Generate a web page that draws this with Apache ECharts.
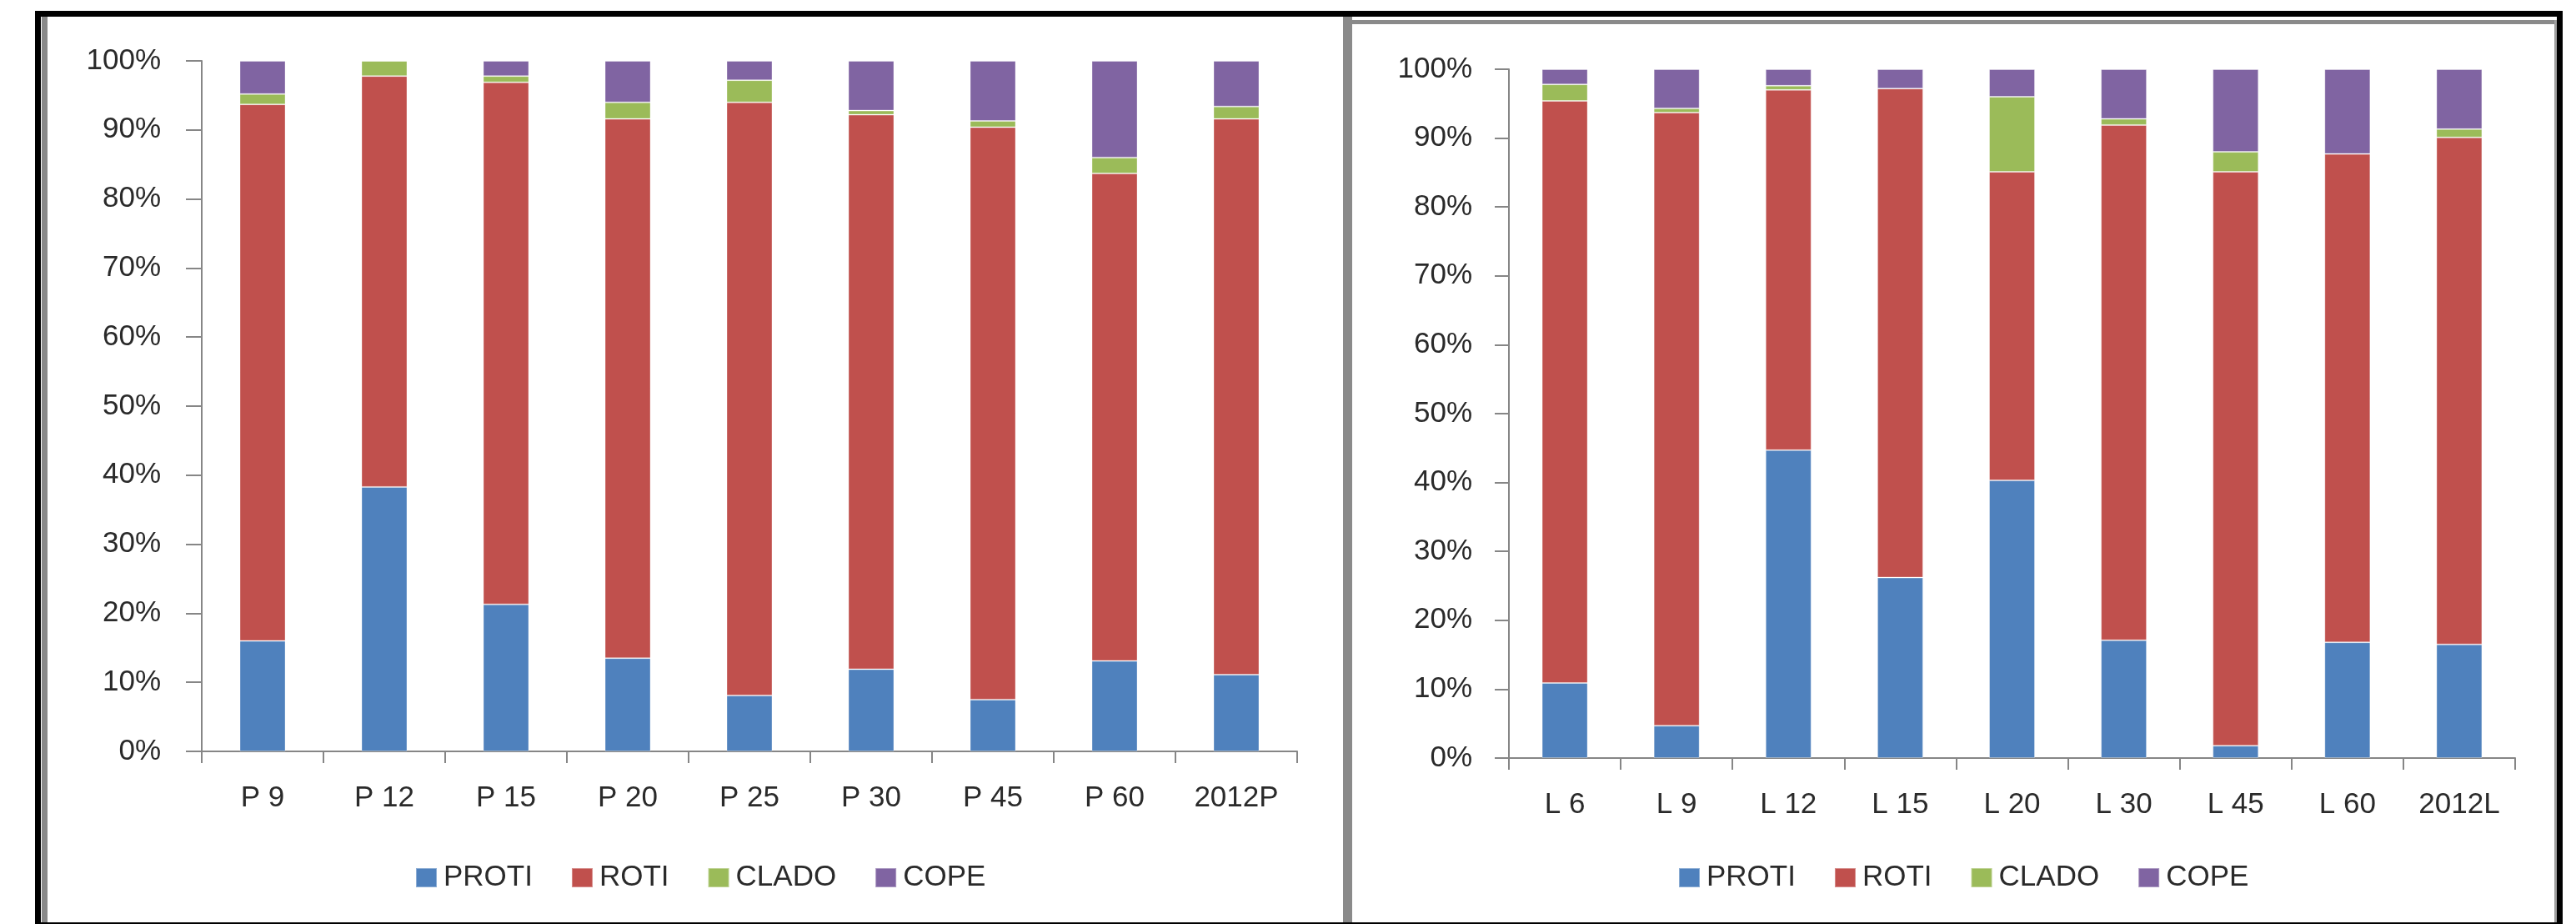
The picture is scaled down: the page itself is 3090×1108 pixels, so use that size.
<!DOCTYPE html>
<html>
<head>
<meta charset="utf-8">
<script src="https://cdn.jsdelivr.net/npm/echarts@6/dist/echarts.min.js"></script>
<style>
  html, body { margin: 0; padding: 0; background: #fff; }
  #chart { width: 3090px; height: 1108px; }
</style>
</head>
<body>
<div id="chart"></div>
<script>
// Zooplankton composition (%), sample stations P and L
const seriesNames = ['PROTI', 'ROTI', 'CLADO', 'COPE'];
const seriesColors = ['#4F81BD', '#C0504D', '#9BBB59', '#8064A2'];

const categoriesP = ['P 9', 'P 12', 'P 15', 'P 20', 'P 25', 'P 30', 'P 45', 'P 60', '2012P'];
const protiP = [16.0, 38.3, 21.3, 13.5, 8.1, 11.9, 7.5, 13.1, 11.1];
const rotiP  = [77.7, 59.5, 75.6, 78.1, 85.9, 80.3, 82.9, 70.6, 80.5];
const cladoP = [1.5, 2.2, 0.9, 2.4, 3.2, 0.6, 0.9, 2.3, 1.8];
const copeP  = [4.8, 0.0, 2.2, 6.0, 2.8, 7.2, 8.7, 14.0, 6.6];

const categoriesL = ['L 6', 'L 9', 'L 12', 'L 15', 'L 20', 'L 30', 'L 45', 'L 60', '2012L'];
const protiL = [10.9, 4.7, 44.7, 26.2, 40.3, 17.1, 1.8, 16.8, 16.5];
const rotiL  = [84.5, 89.0, 52.3, 71.0, 44.8, 74.8, 83.3, 70.9, 73.6];
const cladoL = [2.4, 0.6, 0.6, 0.0, 10.9, 0.9, 2.9, 0.0, 1.2];
const copeL  = [2.2, 5.7, 2.4, 2.8, 4.0, 7.2, 12.0, 12.3, 8.7];

const FONT = '"Liberation Sans", Arial, sans-serif';
const TEXT = '#2a2a2a';
const AXIS = '#868686';

function valueAxis(gridIndex, labelMargin, tickLen) {
  return {
    type: 'value', gridIndex, min: 0, max: 100, interval: 10,
    axisLine: { show: true, lineStyle: { color: AXIS, width: 2 } },
    axisTick: { show: true, length: tickLen, lineStyle: { color: AXIS, width: 2 } },
    splitLine: { show: false },
    axisLabel: { formatter: '{value}%', margin: labelMargin, fontFamily: FONT, fontSize: 35, color: TEXT }
  };
}
function categoryAxis(gridIndex, data) {
  return {
    type: 'category', gridIndex, data,
    axisLine: { show: true, lineStyle: { color: AXIS, width: 2 } },
    axisTick: { show: true, length: 14, lineStyle: { color: AXIS, width: 2 } },
    axisLabel: { margin: 39, fontFamily: FONT, fontSize: 35, color: TEXT, interval: 0 }
  };
}
function stackSeries(gridIndex, stack, values) {
  return values.map((vals, i) => ({
    name: seriesNames[i], type: 'bar', stack,
    xAxisIndex: gridIndex, yAxisIndex: gridIndex,
    barWidth: 55, data: vals,
    itemStyle: { color: seriesColors[i], borderColor: 'rgba(255,255,255,0.35)', borderWidth: 1 }
  }));
}
function legend(left) {
  return {
    left, top: 1030, itemWidth: 25, itemHeight: 23, itemGap: 46,
    icon: 'rect', data: seriesNames,
    textStyle: { fontFamily: FONT, fontSize: 35, color: TEXT, padding: [0, 0, 0, 3] }
  };
}

const chart = echarts.init(document.getElementById('chart'), null, { renderer: 'canvas' });
chart.setOption({
  animation: false,
  backgroundColor: '#ffffff',
  color: seriesColors,
  grid: [
    { left: 242, top: 73, width: 1314, height: 828 },
    { left: 1810, top: 83, width: 1207, height: 826 }
  ],
  xAxis: [categoryAxis(0, categoriesP), categoryAxis(1, categoriesL)],
  yAxis: [valueAxis(0, 49, 19), valueAxis(1, 44, 17)],
  legend: [legend(493), legend(2008)],
  series: [
    ...stackSeries(0, 'P', [protiP, rotiP, cladoP, copeP]),
    ...stackSeries(1, 'L', [protiL, rotiL, cladoL, copeL])
  ],
  graphic: [
    // panel frames
    { type: 'rect', shape: { x: 42, y: 13, width: 3032, height: 7 }, style: { fill: '#000' }, silent: true },
    { type: 'rect', shape: { x: 42, y: 13, width: 7, height: 1095 }, style: { fill: '#000' }, silent: true },
    { type: 'rect', shape: { x: 3067, y: 13, width: 7, height: 1095 }, style: { fill: '#000' }, silent: true },
    { type: 'rect', shape: { x: 42, y: 1106, width: 3032, height: 2 }, style: { fill: '#000' }, silent: true },
    { type: 'rect', shape: { x: 50, y: 20, width: 7, height: 1086 }, style: { fill: '#8a8a8a' }, silent: true },
    { type: 'rect', shape: { x: 1611, y: 20, width: 11, height: 1086 }, style: { fill: '#8a8a8a' }, silent: true },
    { type: 'rect', shape: { x: 1617, y: 24, width: 1450, height: 5 }, style: { fill: '#8a8a8a' }, silent: true },
    { type: 'rect', shape: { x: 3064, y: 24, width: 3, height: 1082 }, style: { fill: '#a0a0a0' }, silent: true }
  ]
});
</script>
</body>
</html>
